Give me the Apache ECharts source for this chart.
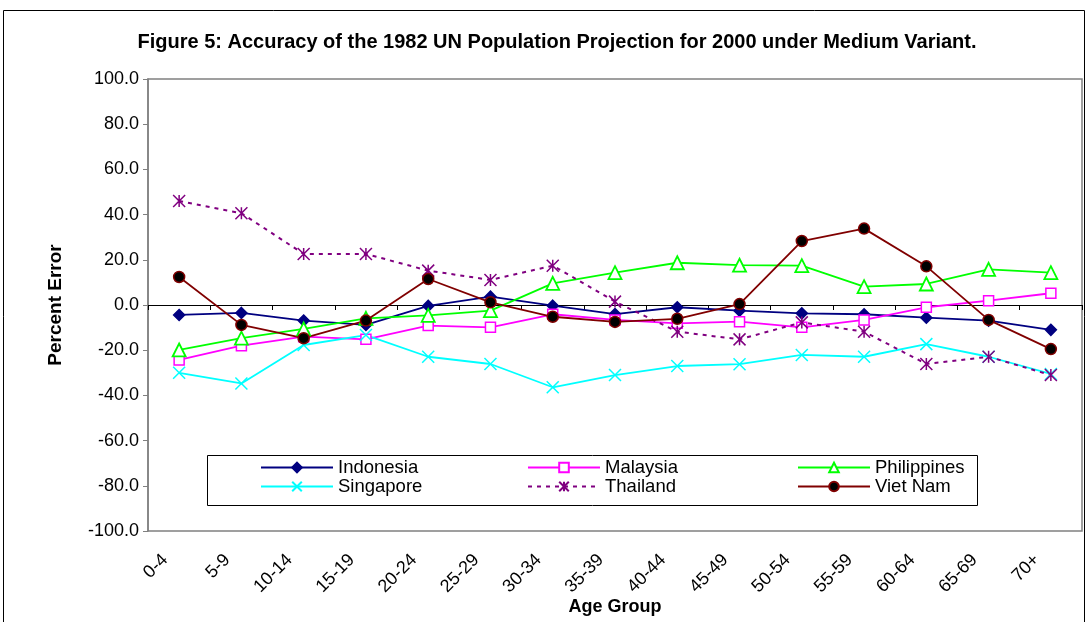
<!DOCTYPE html>
<html>
<head>
<meta charset="utf-8">
<script src="https://cdn.jsdelivr.net/npm/echarts@6/dist/echarts.min.js"></script>
<style>
  html, body { margin: 0; padding: 0; background: #fff; }
  #myChart { width: 1085px; height: 622px; }
</style>
</head>
<body>
<div id="myChart"></div>
<script>
// age groups on the x axis
var ageGroups = ["0-4", "5-9", "10-14", "15-19", "20-24", "25-29", "30-34", "35-39",
  "40-44", "45-49", "50-54", "55-59", "60-64", "65-69", "70+"];

// percent error per country
var indonesia   = [-4.4, -3.5, -6.9, -8.8, -0.4, 3.7, -0.3, -4.0, -1.0, -2.5, -3.7, -4.1, -5.6, -6.9, -11.0];
var malaysia    = [-24.3, -18.0, -14.0, -15.2, -9.1, -9.9, -4.1, -6.6, -8.1, -7.4, -9.9, -6.6, -1.0, 1.9, 5.2];
var philippines = [-19.9, -14.7, -10.6, -5.9, -4.6, -2.5, 9.6, 14.3, 18.7, 17.6, 17.4, 8.1, 9.3, 15.8, 14.3];
var singapore   = [-30.0, -34.7, -17.7, -13.3, -22.9, -26.1, -36.4, -31.0, -27.0, -26.2, -22.1, -22.9, -17.3, -22.9, -30.5];
var thailand    = [46.0, 40.6, 22.6, 22.6, 15.2, 11.1, 17.4, 1.5, -11.8, -15.2, -7.7, -11.8, -26.1, -22.9, -31.0];
var vietNam     = [12.4, -8.8, -14.7, -6.9, 11.5, 1.2, -5.2, -7.5, -6.1, 0.4, 28.3, 33.8, 17.1, -6.6, -19.5];

var FONT = "Liberation Sans, Arial, sans-serif";
var crossPath = "path://M0,0L10,10M10,0L0,10";
var starPath = "path://M5,0L5,10M0,0L10,10M10,0L0,10";

function mkLine(name, data, color, symbol, size, extra) {
  var s = {
    name: name,
    type: "line",
    xAxisIndex: 1,
    data: data,
    symbol: symbol,
    symbolSize: size,
    lineStyle: { color: color, width: 1.8 },
    itemStyle: { color: color, borderColor: color, borderWidth: 1.5 },
    emphasis: { disabled: true },
    animation: false
  };
  if (extra) {
    for (var k in extra) s[k] = extra[k];
  }
  return s;
}

var chart = echarts.init(document.getElementById("myChart"));

var legendBase = {
  orient: "vertical",
  top: 458,
  padding: 0,
  itemWidth: 72,
  itemHeight: 12,
  itemGap: 0,
  textStyle: { fontFamily: FONT, fontSize: 18.5, color: "#000", lineHeight: 19 },
  selectedMode: false
};

chart.setOption({
  backgroundColor: "#fff",
  animation: false,
  title: {
    text: "Figure 5: Accuracy of the 1982 UN Population Projection for 2000 under Medium Variant.",
    left: 552,
    textAlign: "center",
    top: 27,
    textStyle: { fontFamily: FONT, fontSize: 20, fontWeight: "bold", color: "#000" }
  },
  grid: {
    left: 148, right: 3, top: 79, bottom: 91,
    outerBoundsMode: "none",
    containLabel: false,
    show: true,
    borderColor: "#808080",
    borderWidth: 1.5,
    backgroundColor: "transparent"
  },
  legend: [
    Object.assign({}, legendBase, { left: 260, data: ["Indonesia", "Singapore"] }),
    Object.assign({}, legendBase, { left: 527, data: ["Malaysia", "Thailand"] }),
    Object.assign({}, legendBase, { left: 797, data: ["Philippines", "Viet Nam"] })
  ],
  graphic: [
    {
      type: "rect",
      shape: { x: 3.5, y: 10.5, width: 1081, height: 640 },
      style: { fill: null, stroke: "#000", lineWidth: 1 },
      silent: true
    },
    {
      type: "rect",
      shape: { x: 207.5, y: 455.5, width: 770, height: 50 },
      style: { fill: "#fff", stroke: "#000", lineWidth: 1 },
      silent: true,
      z: 1
    }
  ],
  xAxis: [
    {
      // zero line with ticks
      type: "category",
      position: "top",
      data: ageGroups,
      boundaryGap: true,
      axisLine: { show: true, onZero: true, lineStyle: { color: "#000", width: 1 } },
      axisTick: { show: true, inside: true, length: 5, lineStyle: { color: "#000" } },
      axisLabel: { show: false },
      splitLine: { show: false }
    },
    {
      type: "category",
      position: "bottom",
      data: ageGroups,
      boundaryGap: true,
      axisLine: { show: false, onZero: false },
      axisTick: { show: false },
      axisLabel: {
        rotate: 45, margin: 12, padding: [0, 20, 0, 0],
        fontFamily: FONT, fontSize: 18, color: "#000"
      },
      name: "Age Group",
      nameLocation: "middle",
      nameGap: 67,
      nameMoveOverlap: false,
      nameTextStyle: { fontFamily: FONT, fontSize: 18, fontWeight: "bold", color: "#000" }
    }
  ],
  yAxis: {
    type: "value",
    min: -100,
    max: 100,
    interval: 20,
    axisLine: { show: true, lineStyle: { color: "#808080", width: 1.5 } },
    axisTick: { show: true, length: 5, lineStyle: { color: "#808080" } },
    axisLabel: {
      margin: 9,
      fontFamily: FONT, fontSize: 18, color: "#000",
      formatter: function (v) { return v.toFixed(1); }
    },
    splitLine: { show: false },
    name: "Percent Error",
    nameLocation: "middle",
    nameGap: 83,
    nameMoveOverlap: false,
    nameTextStyle: { fontFamily: FONT, fontSize: 19, fontWeight: "bold", color: "#000" }
  },
  series: [
    mkLine("Indonesia", indonesia, "#000080", "diamond", 11),
    mkLine("Malaysia", malaysia, "#FF00FF", "rect", 10,
      { itemStyle: { color: "#fff", borderColor: "#FF00FF", borderWidth: 1.5 } }),
    mkLine("Philippines", philippines, "#00FF00", "triangle", 13,
      { itemStyle: { color: "#fff", borderColor: "#00FF00", borderWidth: 1.8 } }),
    mkLine("Singapore", singapore, "#00FFFF", crossPath, 12),
    mkLine("Thailand", thailand, "#800080", starPath, 12,
      { lineStyle: { color: "#800080", width: 2, type: [4, 5] } }),
    mkLine("Viet Nam", vietNam, "#800000", "circle", 11,
      { itemStyle: { color: "#000", borderColor: "#800000", borderWidth: 1.5 } })
  ]
});
</script>
</body>
</html>
